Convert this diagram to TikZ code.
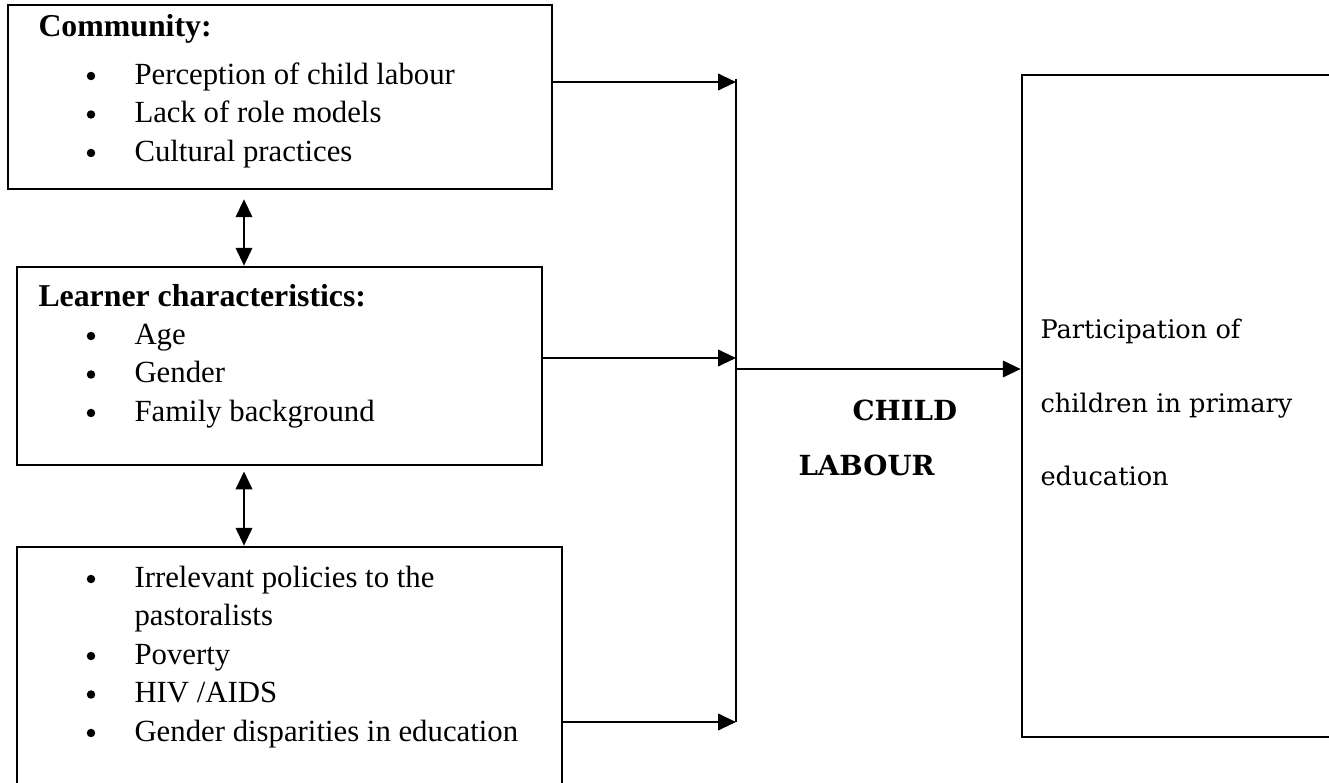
\documentclass[tikz,border=0pt]{standalone}
\usepackage{fontspec}
\setmainfont{Liberation Serif}
\newfontfamily\widefont{DejaVu Serif}
\usetikzlibrary{arrows.meta}

\begin{document}
\begin{tikzpicture}[x=0.39pt, y=-0.39pt,
        box/.style={draw, line width=1pt, inner sep=0pt},
        txt/.style={anchor=base west, inner sep=0pt, font=\fontsize{12}{14}\selectfont},
        head/.style={txt, font=\fontsize{12.4}{14}\selectfont\bfseries},
        dot/.style={circle, fill, inner sep=0pt, minimum size=3.3pt},
        wide/.style={anchor=base west, inner sep=0pt, font=\fontsize{10}{12}\widefont},
        link/.style={line width=1pt},
        arr/.style={link, -{Triangle[length=7pt, width=6.4pt]}},
        dbl/.style={link, {Triangle[length=7pt, width=6.4pt]}-{Triangle[length=7pt, width=6.4pt]}}]
            \path[use as bounding box, clip] (0,0) rectangle (1329,782);

            \node [box, minimum width=212.16pt, minimum height=71.76pt] (comm) at (280,97) {};
            \node [box, minimum width=204.75pt, minimum height=77.22pt] (learner) at (279.5,366) {};
            \node [box, minimum width=212.55pt, minimum height=97.5pt] (policy) at (289.5,672) {};
            \node [box, minimum width=125.97pt, minimum height=258.18pt] (particip) at (1183.5,406) {};

            \node [head] (commhead) at (38,36) {Community:};
            \node [dot] (c1) at (91,76) {};
            \node [dot] (c2) at (91,114.5) {};
            \node [dot] (c3) at (91,153) {};
            \node [txt] (ct1) at (134,84) {Perception of child labour};
            \node [txt] (ct2) at (134,122.5) {Lack of role models};
            \node [txt] (ct3) at (134,161) {Cultural practices};

            \node [head] (learnhead) at (38,306) {Learner characteristics:};
            \node [dot] (l1) at (91,336) {};
            \node [dot] (l2) at (91,374.5) {};
            \node [dot] (l3) at (91,413) {};
            \node [txt] (lt1) at (134,344) {Age};
            \node [txt] (lt2) at (134,382.5) {Gender};
            \node [txt] (lt3) at (134,421) {Family background};

            \node [dot] (p1) at (91,579) {};
            \node [dot] (p2) at (91,656) {};
            \node [dot] (p3) at (91,694.5) {};
            \node [dot] (p4) at (91,733) {};
            \node [txt] (pt1) at (134,587) {Irrelevant policies to the};
            \node [txt] (pt1b) at (134,625.5) {pastoralists};
            \node [txt] (pt2) at (134,664) {Poverty};
            \node [txt] (pt3) at (134,702.5) {HIV /AIDS};
            \node [txt] (pt4) at (134,741) {Gender disparities in education};

            \node [wide, font=\fontsize{10.8}{12}\widefont\bfseries] (child) at (852,420) {CHILD};
            \node [wide, font=\fontsize{10.8}{12}\widefont\bfseries] (labour) at (798,475) {LABOUR};

            \node [wide] (pa1) at (1040,338) {Participation of};
            \node [wide] (pa2) at (1040,412) {children in primary};
            \node [wide] (pa3) at (1040,485) {education};

            \coordinate (jtop) at (736,79);
            \coordinate (jbot) at (736,722);
            \coordinate (in1) at (736,82);
            \coordinate (in2) at (736,358);
            \coordinate (in3) at (736,722);
            \coordinate (out) at (736,369);
            \coordinate (vert) at (244,0);

            \draw [link] (jtop) -- (jbot);
            \draw [arr] (comm.east |- in1) -- (in1);
            \draw [arr] (learner.east |- in2) -- (in2);
            \draw [arr] (policy.east |- in3) -- (in3);
            \draw [arr] (out) -- (particip.west |- out);

            \draw [dbl, shorten <=3.5pt] (comm.south -| vert) -- (learner.north -| vert);
            \draw [dbl, shorten <=2pt] (learner.south -| vert) -- (policy.north -| vert);
        \end{tikzpicture}
\end{document}
